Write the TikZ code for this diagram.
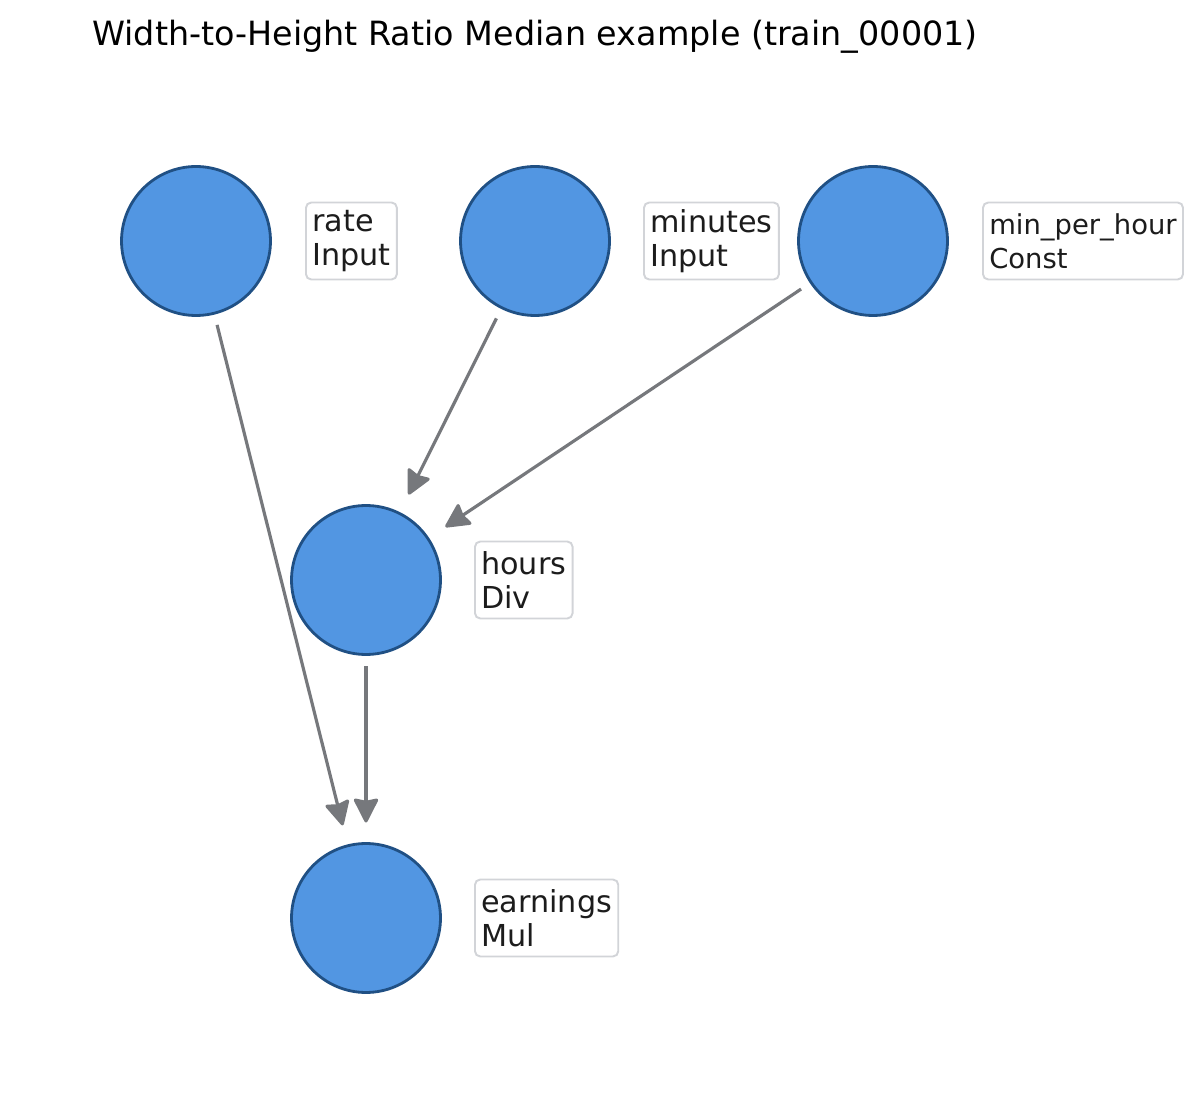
\documentclass[tikz,border=0pt]{standalone}
\usepackage{fontspec}
\setmainfont{DejaVu Sans}
\usetikzlibrary{arrows.meta}

\definecolor{opfill}{RGB}{82,150,226}
\definecolor{opedge}{RGB}{32,80,132}
\definecolor{edgegray}{RGB}{118,120,124}
\definecolor{tagline}{RGB}{210,212,216}
\definecolor{tagtext}{RGB}{28,28,28}

\begin{document}
\begin{tikzpicture}[x=0.02cm,y=-0.02cm,
  op/.style={circle,draw=opedge,fill=opfill,line width=1.6pt,minimum size=2.98cm,inner sep=0pt,outer sep=0pt},
  tag/.style={anchor=west,draw=tagline,line width=1.1pt,rounded corners=3pt,fill=white,text=tagtext,align=left,
    inner xsep=3.6pt,inner ysep=2pt,minimum height=1.54cm,font=\fontsize{17.2}{19.4}\selectfont},
  flow/.style={draw=edgegray,line width=1.8pt,shorten <=0.24cm,shorten >=0.42cm,
    -{Stealth[length=15pt 0,width=15pt 0,inset=1.5pt 0,round]}}]
\useasboundingbox (0,0) rectangle (1198,1118);
\node[anchor=base,font=\fontsize{19}{22}\selectfont] (title) at (535,46) {Width-to-Height Ratio Median example (train\_00001)};
% the five operation nodes
\node[op] (rate) at (196,241) {};
\node[op] (minutes) at (535,241) {};
\node[op] (mph) at (873,241) {};
\node[op] (hours) at (366,580) {};
\node[op] (earnings) at (366,918) {};
% name / kind tags
\node[tag] (rate tag) at (305,241) {rate\\Input};
\node[tag] (minutes tag) at (643,241) {minutes\\Input};
\node[tag,font=\fontsize{15.6}{19.4}\selectfont] (mph tag) at (982,241) {min\_per\_hour\\Const};
\node[tag] (hours tag) at (474,580) {hours\\Div};
\node[tag] (earnings tag) at (474,918) {earnings\\Mul};
\draw[flow] (rate) -- (earnings);
\draw[flow] (minutes) -- (hours);
\draw[flow] (mph) -- (hours);
\draw[flow] (hours) -- (earnings);
\end{tikzpicture}
\end{document}
